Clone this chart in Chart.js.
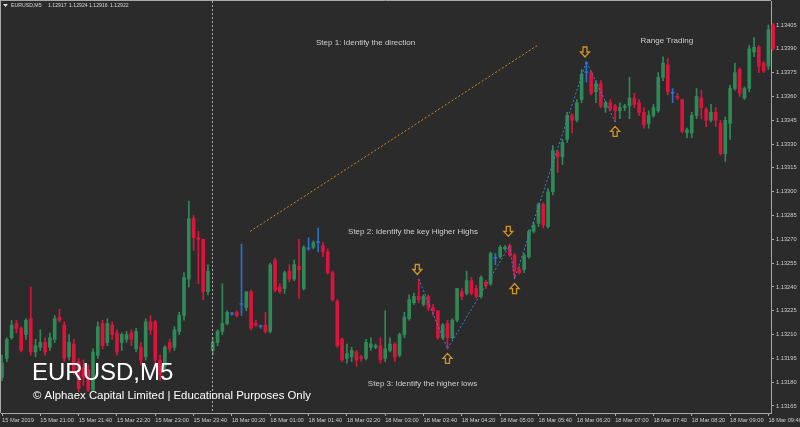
<!DOCTYPE html>
<html>
<head>
<meta charset="utf-8">
<script src="https://cdn.jsdelivr.net/npm/chart.js@4.4.0/dist/chart.umd.min.js"></script>
<style>
  html, body { margin: 0; padding: 0; background: #2b2b2b; }
  canvas { display: block; }
</style>
</head>
<body>
<canvas id="mychart" width="800" height="427"></canvas>
<script>
// EURUSD M5 candles, 15 Mar 2019 20:20 -> 18 Mar 2019 09:45
var openP = [1.13183,1.13195,1.13208,1.13217,1.13214,1.13210,1.13220,1.13199,1.13202,1.13205,1.13202,1.13207,1.13221,1.13216,1.13196,1.13204,1.13193,1.13189,1.13188,1.13175,
  1.13197,1.13217,1.13205,1.13216,1.13211,1.13205,1.13207,1.13211,1.13201,1.13202,1.13196,1.13218,1.13218,1.13194,1.13190,1.13205,1.13202,1.13212,1.13222,1.13245,
  1.13283,1.13271,1.13270,1.13237,1.13200,1.13205,1.13212,1.13217,1.13223,1.13224,1.13229,1.13227,1.13237,1.13217,1.13215,1.13216,1.13212,1.13257,1.13240,1.13239,
  1.13250,1.13245,1.13253,1.13239,1.13264,1.13265,1.13268,1.13266,1.13262,1.13249,1.13231,1.13207,1.13195,1.13196,1.13199,1.13196,1.13195,1.13202,1.13202,1.13203,
  1.13195,1.13200,1.13204,1.13197,1.13210,1.13220,1.13230,1.13234,1.13229,1.13234,1.13227,1.13225,1.13208,1.13217,1.13208,1.13219,1.13237,1.13236,1.13244,1.13239,
  1.13234,1.13243,1.13242,1.13258,1.13259,1.13264,1.13266,1.13260,1.13251,1.13251,1.13259,1.13275,1.13280,1.13292,1.13278,1.13300,1.13325,1.13322,1.13333,1.13348,
  1.13345,1.13358,1.13375,1.13375,1.13363,1.13368,1.13353,1.13356,1.13354,1.13351,1.13353,1.13354,1.13359,1.13356,1.13350,1.13343,1.13348,1.13351,1.13372,1.13380,
  1.13362,1.13360,1.13358,1.13337,1.13337,1.13348,1.13359,1.13352,1.13345,1.13350,1.13343,1.13324,1.13343,1.13365,1.13377,1.13359,1.13365,1.13388,1.13391,1.13381,
  1.13379,1.13405];
var highP = [1.13197,1.13208,1.13219,1.13219,1.13215,1.13220,1.13240,1.13207,1.13213,1.13208,1.13211,1.13222,1.13226,1.13218,1.13210,1.13207,1.13195,1.13194,1.13191,1.13201,
  1.13218,1.13219,1.13220,1.13218,1.13213,1.13211,1.13212,1.13213,1.13214,1.13205,1.13220,1.13222,1.13219,1.13197,1.13203,1.13207,1.13215,1.13224,1.13249,1.13294,
  1.13285,1.13275,1.13270,1.13254,1.13208,1.13213,1.13242,1.13225,1.13224,1.13225,1.13267,1.13237,1.13238,1.13219,1.13216,1.13224,1.13255,1.13258,1.13242,1.13250,
  1.13254,1.13257,1.13270,1.13266,1.13271,1.13269,1.13277,1.13268,1.13264,1.13250,1.13232,1.13208,1.13204,1.13202,1.13200,1.13197,1.13207,1.13208,1.13204,1.13208,
  1.13225,1.13208,1.13205,1.13211,1.13224,1.13235,1.13236,1.13245,1.13235,1.13235,1.13229,1.13225,1.13217,1.13219,1.13220,1.13239,1.13239,1.13250,1.13246,1.13241,
  1.13247,1.13244,1.13262,1.13261,1.13266,1.13266,1.13267,1.13261,1.13253,1.13261,1.13276,1.13281,1.13293,1.13293,1.13302,1.13329,1.13326,1.13333,1.13350,1.13349,
  1.13358,1.13377,1.13382,1.13376,1.13370,1.13370,1.13357,1.13358,1.13355,1.13356,1.13355,1.13372,1.13362,1.13358,1.13353,1.13351,1.13355,1.13375,1.13385,1.13384,
  1.13365,1.13362,1.13358,1.13340,1.13350,1.13365,1.13364,1.13353,1.13355,1.13353,1.13345,1.13347,1.13367,1.13381,1.13378,1.13366,1.13392,1.13397,1.13392,1.13382,
  1.13405,1.13406];
var lowP = [1.13181,1.13193,1.13207,1.13211,1.13199,1.13207,1.13197,1.13196,1.13200,1.13197,1.13200,1.13205,1.13218,1.13193,1.13194,1.13185,1.13174,1.13178,1.13174,1.13174,
  1.13195,1.13201,1.13203,1.13207,1.13197,1.13200,1.13205,1.13203,1.13199,1.13191,1.13194,1.13210,1.13191,1.13181,1.13188,1.13199,1.13200,1.13210,1.13219,1.13240,
  1.13263,1.13242,1.13232,1.13235,1.13197,1.13203,1.13210,1.13216,1.13222,1.13221,1.13222,1.13225,1.13213,1.13215,1.13214,1.13211,1.13211,1.13237,1.13236,1.13236,
  1.13243,1.13244,1.13233,1.13238,1.13263,1.13264,1.13262,1.13259,1.13248,1.13231,1.13202,1.13193,1.13192,1.13193,1.13190,1.13193,1.13194,1.13200,1.13201,1.13192,
  1.13193,1.13199,1.13193,1.13196,1.13208,1.13219,1.13229,1.13230,1.13228,1.13225,1.13222,1.13207,1.13207,1.13201,1.13207,1.13218,1.13232,1.13235,1.13235,1.13233,
  1.13233,1.13239,1.13241,1.13254,1.13258,1.13263,1.13259,1.13245,1.13248,1.13249,1.13258,1.13274,1.13278,1.13277,1.13277,1.13298,1.13312,1.13317,1.13331,1.13337,
  1.13344,1.13356,1.13369,1.13361,1.13356,1.13353,1.13350,1.13351,1.13344,1.13346,1.13351,1.13346,1.13353,1.13348,1.13340,1.13340,1.13347,1.13350,1.13370,1.13361,
  1.13356,1.13358,1.13337,1.13334,1.13334,1.13346,1.13346,1.13341,1.13344,1.13341,1.13323,1.13319,1.13333,1.13364,1.13360,1.13358,1.13363,1.13385,1.13375,1.13375,
  1.13377,1.13389];
var closeP = [1.13192,1.13207,1.13216,1.13214,1.13200,1.13219,1.13199,1.13203,1.13205,1.13199,1.13208,1.13220,1.13219,1.13195,1.13205,1.13186,1.13176,1.13183,1.13175,1.13199,
  1.13215,1.13203,1.13217,1.13210,1.13199,1.13210,1.13210,1.13207,1.13212,1.13194,1.13218,1.13213,1.13194,1.13185,1.13202,1.13201,1.13213,1.13222,1.13246,1.13283,
  1.13271,1.13270,1.13237,1.13250,1.13205,1.13212,1.13217,1.13224,1.13223,1.13222,1.13229,1.13237,1.13214,1.13216,1.13215,1.13212,1.13254,1.13238,1.13237,1.13249,
  1.13245,1.13254,1.13251,1.13265,1.13264,1.13268,1.13268,1.13262,1.13249,1.13232,1.13203,1.13194,1.13198,1.13200,1.13194,1.13195,1.13205,1.13204,1.13203,1.13194,
  1.13201,1.13204,1.13196,1.13210,1.13221,1.13232,1.13234,1.13232,1.13234,1.13227,1.13225,1.13208,1.13216,1.13208,1.13219,1.13239,1.13234,1.13244,1.13236,1.13234,
  1.13246,1.13241,1.13261,1.13258,1.13265,1.13265,1.13260,1.13250,1.13249,1.13260,1.13275,1.13279,1.13292,1.13279,1.13300,1.13326,1.13322,1.13331,1.13348,1.13345,
  1.13356,1.13374,1.13375,1.13362,1.13368,1.13354,1.13356,1.13352,1.13351,1.13353,1.13354,1.13359,1.13355,1.13350,1.13342,1.13348,1.13353,1.13372,1.13381,1.13363,
  1.13362,1.13359,1.13338,1.13339,1.13348,1.13360,1.13353,1.13345,1.13350,1.13345,1.13324,1.13345,1.13365,1.13375,1.13362,1.13365,1.13390,1.13391,1.13379,1.13376,
  1.13402,1.13390];

var xTickBars = [0, 8, 16, 24, 32, 40, 48, 56, 64, 72, 80, 88, 96, 104, 112, 120, 128, 136, 144, 152, 160];
var xTickLabels = ['15 Mar 2019', '15 Mar 21:00', '15 Mar 21:40', '15 Mar 22:20', '15 Mar 23:00', '15 Mar 23:40',
  '18 Mar 00:20', '18 Mar 01:00', '18 Mar 01:40', '18 Mar 02:20', '18 Mar 03:00', '18 Mar 03:40', '18 Mar 04:20',
  '18 Mar 05:00', '18 Mar 05:40', '18 Mar 06:20', '18 Mar 07:00', '18 Mar 07:40', '18 Mar 08:20', '18 Mar 09:00', '18 Mar 09:40'];
var yTicks = [1.13405, 1.13390, 1.13375, 1.13360, 1.13345, 1.13330, 1.13315, 1.13300, 1.13285,
  1.13270, 1.13255, 1.13240, 1.13225, 1.13210, 1.13195, 1.13180, 1.13165];
var mondayBar = 44; // first bar of 18 Mar

// hand drawn analysis on the chart (bar index / price)
var trendBars = [51.8, 111.7];
var trendPrices = [1.13275, 1.13392];
var swingBars = [87, 93, 106, 107, 122, 128];
var swingPrices = [1.13245, 1.13201, 1.13266, 1.13245, 1.13382, 1.13344];
var arrowBars = [86.7, 93, 105.7, 107, 121.7, 128];
var arrowPrices = [1.13251, 1.13195, 1.13275, 1.13239, 1.13388, 1.13338];
var arrowDirs = ['down', 'up', 'down', 'up', 'down', 'up'];
var noteTexts = ['Step 1: Identify the direction', 'Step 2: Identify the key Higher Highs', 'Step 3: Identify the higher lows', 'Range Trading'];
var noteBars = [75.9, 85.8, 87.8, 138.8];
var notePrices = [1.13394, 1.13275, 1.13179, 1.13395];

var bullColor = '#2e8b57';
var bearColor = '#dc143c';
var dojiColor = '#2b6fcf';
var axisColor = '#a8a8a8';
var textColor = '#cfcfcf';

var candleColors = openP.map(function (o, i) {
    if (closeP[i] > o) return bullColor;
    if (closeP[i] < o) return bearColor;
    return dojiColor;
});

var bodies = openP.map(function (o, i) { return { x: i, y: [o, closeP[i]] }; });
var wicks = lowP.map(function (l, i) { return { x: i, y: [l, highP[i]] }; });
var trendLine = trendBars.map(function (b, i) { return { x: b, y: trendPrices[i] }; });
var swingLine = swingBars.map(function (b, i) { return { x: b, y: swingPrices[i] }; });

// hollow arrow like the MT4 arrow objects
function drawArrow(ctx, x, y, dir) {
    var s = dir === 'down' ? 1 : -1;
    ctx.beginPath();
    ctx.moveTo(x - 2, y - 5 * s);
    ctx.lineTo(x + 2, y - 5 * s);
    ctx.lineTo(x + 2, y);
    ctx.lineTo(x + 4.5, y);
    ctx.lineTo(x, y + 5 * s);
    ctx.lineTo(x - 4.5, y);
    ctx.lineTo(x - 2, y);
    ctx.closePath();
    ctx.stroke();
}

var chartDecor = {
    id: 'chartDecor',
    beforeDraw: function (chart) {
        var ctx = chart.ctx;
        ctx.save();
        ctx.fillStyle = '#2b2b2b';
        ctx.fillRect(0, 0, chart.width, chart.height);
        ctx.restore();
    },
    afterDatasetsDraw: function (chart) {
        var ctx = chart.ctx;
        var xs = chart.scales.x, ys = chart.scales.y;
        var area = chart.chartArea;
        ctx.save();

        // frame (left / top)
        ctx.strokeStyle = axisColor;
        ctx.lineWidth = 1;
        ctx.beginPath();
        ctx.moveTo(0.5, 0);
        ctx.lineTo(0.5, area.bottom);
        ctx.moveTo(0, 0.5);
        ctx.lineTo(area.right, 0.5);
        ctx.stroke();

        // day separator
        var sx = Math.round(xs.getPixelForValue(mondayBar)) - 0.5;
        ctx.strokeStyle = '#b0b0b0';
        ctx.setLineDash([2, 2]);
        ctx.beginPath();
        ctx.moveTo(sx, area.top);
        ctx.lineTo(sx, area.bottom);
        ctx.stroke();
        ctx.setLineDash([]);

        // notes
        ctx.fillStyle = textColor;
        ctx.font = '8px "Liberation Sans"';
        ctx.textAlign = 'center';
        ctx.textBaseline = 'middle';
        noteTexts.forEach(function (t, i) {
            ctx.fillText(t, xs.getPixelForValue(noteBars[i]), ys.getPixelForValue(notePrices[i]));
        });

        // arrows
        ctx.strokeStyle = '#cf9526';
        ctx.lineWidth = 1.3;
        arrowDirs.forEach(function (d, i) {
            drawArrow(ctx, xs.getPixelForValue(arrowBars[i]), ys.getPixelForValue(arrowPrices[i]), d);
        });

        // header
        ctx.fillStyle = '#e0e0e0';
        ctx.beginPath();
        ctx.moveTo(3, 4);
        ctx.lineTo(8, 4);
        ctx.lineTo(5.5, 7);
        ctx.closePath();
        ctx.fill();
        ctx.fillStyle = '#d8d8d8';
        ctx.font = '5.2px "Liberation Sans"';
        ctx.textAlign = 'left';
        ctx.fillText('EURUSD,M5', 11, 6);
        ctx.fillText('1.12917', 48, 6);
        ctx.fillText('1.12924', 69, 6);
        ctx.fillText('1.12916', 89, 6);
        ctx.fillText('1.12922', 110, 6);

        // watermark
        ctx.fillStyle = '#ffffff';
        ctx.textBaseline = 'alphabetic';
        ctx.font = '24px "Liberation Sans"';
        ctx.fillText('EURUSD,M5', 32, 380);
        ctx.font = '11.4px "Liberation Sans"';
        ctx.fillText('\u00a9 Alphaex Capital Limited | Educational Purposes Only', 33, 399);
        ctx.restore();
    }
};

var smallFont = { family: 'Liberation Sans', size: 5.7 };

new Chart(document.getElementById('mychart'), {
    type: 'bar',
    data: {
        datasets: [{
            type: 'line',
            data: swingLine,
            borderColor: '#3b82dc',
            borderWidth: 1,
            borderDash: [2, 2],
            pointRadius: 0,
            fill: false,
            order: 0
        }, {
            type: 'line',
            data: trendLine,
            borderColor: '#d08a1c',
            borderWidth: 1,
            borderDash: [2, 2],
            pointRadius: 0,
            fill: false,
            order: 0
        }, {
            data: bodies,
            backgroundColor: candleColors,
            barThickness: 3,
            minBarLength: 1,
            borderWidth: 0,
            grouped: false,
            clip: false,
            order: 1
        }, {
            data: wicks,
            backgroundColor: candleColors,
            barThickness: 1,
            borderWidth: 0,
            grouped: false,
            clip: false,
            order: 2
        }]
    },
    options: {
        responsive: false,
        animation: false,
        devicePixelRatio: 1,
        layout: { padding: { left: 1, top: 1, right: 0, bottom: 0 } },
        plugins: { legend: { display: false }, tooltip: { enabled: false } },
        scales: {
            x: {
                type: 'linear',
                offset: false,
                min: -0.209,
                max: 160.54,
                afterBuildTicks: function (s) {
                    s.ticks = xTickBars.map(function (v) { return { value: v }; });
                },
                afterFit: function (s) {
                    s.height = 14;
                    s.paddingLeft = 0;
                    s.paddingRight = 0;
                },
                grid: { offset: false, drawOnChartArea: false, tickLength: 3, color: axisColor },
                border: { display: true, color: axisColor },
                ticks: {
                    autoSkip: false,
                    maxRotation: 0,
                    minRotation: 0,
                    align: 'start',
                    padding: 1,
                    color: textColor,
                    font: smallFont,
                    callback: function (v, i) { return xTickLabels[i]; }
                }
            },
            y: {
                type: 'linear',
                position: 'right',
                min: 1.1316059,
                max: 1.1342012,
                afterBuildTicks: function (s) {
                    s.ticks = yTicks.map(function (v) { return { value: v }; });
                },
                afterFit: function (s) {
                    s.width = 29;
                    s.paddingTop = 0;
                    s.paddingBottom = 0;
                },
                grid: { drawOnChartArea: false, tickLength: 3, color: axisColor },
                border: { display: true, color: axisColor },
                ticks: {
                    padding: 2,
                    color: textColor,
                    font: smallFont,
                    callback: function (v) { return v.toFixed(5); }
                }
            }
        }
    },
    plugins: [chartDecor]
});
</script>
</body>
</html>
